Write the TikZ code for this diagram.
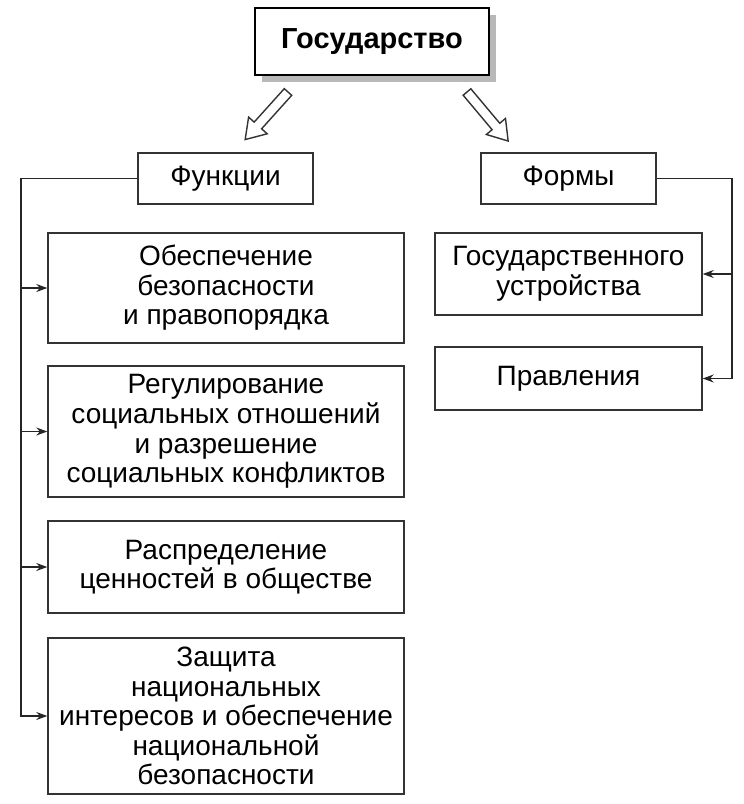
\documentclass[tikz,border=0pt]{standalone}
\usepackage{fontspec}
\setmainfont{Liberation Sans}
\usetikzlibrary{arrows.meta,shadows}

\begin{document}
\begin{tikzpicture}[x=0.5pt, y=-0.5pt,
    box/.style={draw=black!80, line width=0.7pt, fill=white, align=center, inner sep=0pt,
        font=\fontsize{14}{14.8}\selectfont},
    arr/.style={-{Stealth[length=5.5pt, width=4pt]}, line width=0.6pt, draw=black!85},
    pics/hollowarrow/.style={code={
        \draw[line width=0.7pt, draw=black!80, fill=white]
            (0,-5) -- (45,-5) -- (45,-12.5) -- (64,0) -- (45,12.5) -- (45,5) -- (0,5) -- cycle;}}]
    \useasboundingbox (0,0) rectangle (744,804);

    % Top
    \node[box, draw=black, line width=1pt, minimum width=117pt, minimum height=33.5pt,
        font=\fontsize{14.5}{16}\selectfont\bfseries,
        drop shadow={shadow xshift=3.5pt, shadow yshift=-3.5pt, fill=black!28, opacity=1}]
        (gos) at (372,41.5) {Государство};
    \pic[rotate=228] at (288,92) {hollowarrow};
    \pic[rotate=-50] at (467,92) {hollowarrow};

    % Functions
    \node[box, minimum width=87.5pt, minimum height=25.5pt] (func) at (225.5,178.5) {Функции};
    \node[box, minimum width=178pt, minimum height=55pt] (f1) at (226,288)
        {Обеспечение\\безопасности\\и правопорядка};
    \node[box, minimum width=178pt, minimum height=65.5pt] (f2) at (226,431.5)
        {Регулирование\\социальных отношений\\и разрешение\\социальных конфликтов};
    \node[box, minimum width=178pt, minimum height=46pt] (f3) at (226,567)
        {Распределение\\ценностей в обществе};
    \node[box, minimum width=178pt, minimum height=78pt] (f4) at (226,716)
        {Защита\\национальных\\интересов и обеспечение\\национальной\\безопасности};

    % Forms
    \node[box, minimum width=87.5pt, minimum height=25.5pt] (forms) at (568.5,178.5) {Формы};
    \node[box, minimum width=133.5pt, minimum height=41pt] (r1) at (568.5,274)
        {Государственного\\устройства};
    \node[box, minimum width=133.5pt, minimum height=31.5pt] (r2) at (568.5,378.5)
        {Правления};

    % Connectors
    \coordinate (lbus) at (21,178.5);
    \coordinate (rbus) at (732,178.5);
    \draw[arr] (func.west) -- (lbus) |- (f4.west);
    \foreach \n in {f1,f2,f3}
        \draw[arr] (lbus |- \n.west) -- (\n.west);
    \draw[arr] (forms.east) -- (rbus) |- (r2.east);
    \draw[arr] (rbus |- r1.east) -- (r1.east);
\end{tikzpicture}
\end{document}
